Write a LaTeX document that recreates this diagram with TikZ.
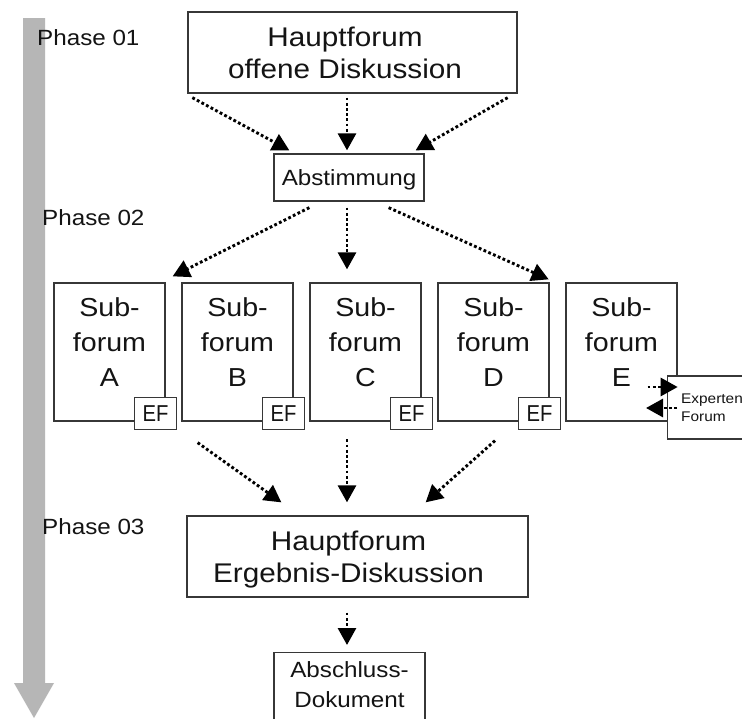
\documentclass[tikz,border=0pt]{standalone}
\usepackage{fontspec}
\setmainfont{Liberation Sans}[FakeStretch=1.1]
\newfontfamily\effont{Liberation Sans}[FakeStretch=0.88]
\usetikzlibrary{arrows.meta,calc}
\definecolor{arrowgray}{RGB}{182,182,182}
\definecolor{boxline}{RGB}{55,55,55}
\definecolor{txt}{RGB}{20,20,20}
\begin{document}
\begin{tikzpicture}[x=1pt,y=-1pt,
  box/.style={draw=boxline, line width=1.3pt, fill=white, inner sep=0pt, text=txt, align=center, text depth=0pt},
  label/.style={text=txt, align=center, inner sep=0pt, text depth=0pt},
  bigtext/.style={label, font=\fontsize{27}{32.5}\selectfont},
  subtext/.style={label, font=\fontsize{26}{35}\selectfont},
  midtext/.style={font=\fontsize{22}{30}\selectfont},
  phasetext/.style={font=\fontsize{22}{26}\selectfont, text=txt, inner sep=0pt, anchor=base west},
  efbox/.style={box, minimum width=42pt, minimum height=32pt, font=\effont\fontsize{23}{23}\selectfont},
  subbox/.style={box, minimum width=111pt, minimum height=138pt},
  dotarrow/.style={line width=2.9pt, dash pattern=on 2.8pt off 2.4pt, black,
    -{Triangle[width=18pt,length=17pt]}},
]
\useasboundingbox (0,0) rectangle (742,718);
\fill[white] (0,0) rectangle (742,718);
\clip (0,0) rectangle (742,718);

% timeline arrow
\fill[arrowgray] (23,18) -- (45,18) -- (45,683) -- (54,683) -- (34,718) -- (14,683) -- (23,683) -- cycle;

% phase labels
\node[phasetext] (p1) at (37,45) {Phase 01};
\node[phasetext] (p2) at (42,225) {Phase 02};
\node[phasetext] (p3) at (42,534) {Phase 03};

% main boxes
\node[box, minimum width=329pt, minimum height=81pt] (h1) at (352.5,52.5) {};
\node[bigtext] (h1t) at ($(h1.center)+(-7.5,0)$) {Hauptforum\\offene Diskussion};
\node[box, midtext, minimum width=150pt, minimum height=47pt] (ab) at (349,177.5) {Abstimmung};

% subforum boxes
\node[subbox] (sA) at (109.5,352) {};
\node[subbox] (sB) at (237.5,352) {};
\node[subbox] (sC) at (365.5,352) {};
\node[subbox] (sD) at (493.5,352) {};
\node[subbox] (sE) at (621.5,352) {};
\node[subtext] (tA) at ($(sA.center)+(0,-10)$) {Sub-\\forum\\A};
\node[subtext] (tB) at ($(sB.center)+(0,-10)$) {Sub-\\forum\\B};
\node[subtext] (tC) at ($(sC.center)+(0,-10)$) {Sub-\\forum\\C};
\node[subtext] (tD) at ($(sD.center)+(0,-10)$) {Sub-\\forum\\D};
\node[subtext] (tE) at ($(sE.center)+(0,-10)$) {Sub-\\forum\\E};
\node[efbox] (eA) at ($(sA.south east)+(-10,-8)$) {EF};
\node[efbox] (eB) at ($(sB.south east)+(-10,-8)$) {EF};
\node[efbox] (eC) at ($(sC.south east)+(-10,-8)$) {EF};
\node[efbox] (eD) at ($(sD.south east)+(-10,-8)$) {EF};

% experten forum
\node[box, anchor=west, minimum height=63pt, minimum width=100pt] (ex) at (667,407.5) {};
\node[label, anchor=west, align=left, font=\fontsize{14}{18}\selectfont] (ext) at ($(ex.west)+(14,0)$) {Experten\\Forum};

% phase 3 boxes
\node[box, minimum width=341pt, minimum height=81pt] (h2) at (357.5,556.5) {};
\node[bigtext] (h2t) at ($(h2.center)+(-9,0)$) {Hauptforum\\Ergebnis-Diskussion};
\node[box, minimum width=151pt, minimum height=90pt, anchor=north] (ad) at (349.5,652) {};
\node[label, midtext, anchor=north] (adt) at ($(ad.north)+(0,9)$) {Abschluss-\\Dokument};

% arrows phase 1
\draw[dotarrow] ($(h1.south west)+(5,4)$) -- ($(ab.north west)+(16,-3)$);
\draw[dotarrow] ($(h1.south)+(-5.5,4)$) -- ($(ab.north)+(-2,-3)$);
\draw[dotarrow] ($(h1.south east)+(-10,4)$) -- ($(ab.north east)+(-9,-3)$);

% arrows phase 2
\draw[dotarrow] ($(ab.south west)+(36,6)$) -- ($(sA.north east)+(7,-6)$);
\draw[dotarrow] ($(ab.south)+(-2,6)$) -- ($(sC.north)+(-18.5,-13)$);
\draw[dotarrow] ($(ab.south east)+(-36,6)$) -- ($(sD.north east)+(-1,-3)$);

% experten arrows
\draw[dotarrow] ($(sE.east)+(-30,35)$) -- ($(sE.east)+(0,35)$);
\draw[dotarrow] ($(ex.west)+(10,0.5)$) -- ($(ex.west)+(-21,0.5)$);

% arrows phase 3
\draw[dotarrow] ($(sA.south east)+(32,21)$) -- ($(h2.north west)+(95,-13)$);
\draw[dotarrow] ($(h2.north)+(-10.5,-76)$) -- ($(h2.north)+(-10.5,-13)$);
\draw[dotarrow] ($(sD.south)+(1.5,19)$) -- ($(h2.north east)+(-103,-13)$);
\draw[dotarrow] ($(h2.south)+(-10.5,15)$) -- ($(ad.north)+(-2.5,-7)$);
\end{tikzpicture}
\end{document}
